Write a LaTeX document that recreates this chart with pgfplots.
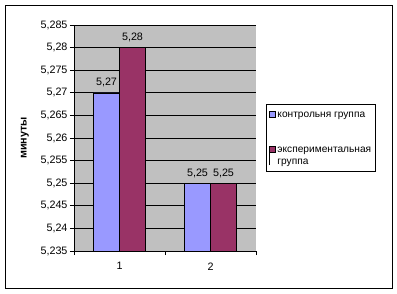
\documentclass[border=0pt]{standalone}
\usepackage{pgfplots}
\pgfplotsset{compat=1.18}
\usepackage{fontspec}
\setmainfont{Liberation Sans}
\definecolor{bgray}{HTML}{C0C0C0}
\definecolor{sblue}{HTML}{9999FF}
\definecolor{sred}{HTML}{993366}
\begin{document}
\begin{tikzpicture}
\begin{axis}[
  at={(0,0)}, anchor=south west,
  scale only axis, width=182bp, height=226bp,
  xmin=0.5, xmax=2.5, ymin=5.235, ymax=5.285,
  ybar=0pt, bar width=26bp,
  axis background/.style={fill=bgray},
  axis x line*=bottom, axis y line*=left,
  axis line style={-, black, line width=0.8pt},
  ytick={5.235,5.24,5.245,5.25,5.255,5.26,5.265,5.27,5.275,5.28,5.285},
  ymajorgrids, grid style={black, line width=0.8pt},
  tick align=outside, major tick length=4bp,
  tick style={black, line width=0.8pt},
  /pgf/number format/assume math mode=true,
  yticklabel={\pgfmathprintnumber[fixed,precision=3,use comma]{\tick}},
  yticklabel style={xshift=1bp},
  xtick={0.5,1.5,2.5}, xticklabels={},
  extra x ticks={1,2}, extra x tick labels={1,2},
  extra x tick style={tick style={draw=none}, xticklabel style={yshift=-4bp}},
  font=\fontsize{10.8}{12.5}\selectfont,
  ylabel={\bfseries минуты},
  ylabel style={at={(axis description cs:-0.27,0.5)}, anchor=center, font=\fontsize{10.8}{12.5}\selectfont},
  nodes near coords={\pgfmathprintnumber[fixed,precision=2,use comma]{\pgfplotspointmeta}},
  nodes near coords style={font=\fontsize{10.8}{12.5}\selectfont, black, yshift=2bp},
  legend style={at={(axis description cs:1.055,0.649)}, anchor=north west,
    draw=black, line width=0.8pt, fill=white, font=\fontsize{10.2}{12.5}\selectfont,
    inner xsep=2.5bp, inner ysep=2.5bp, row sep=22bp,
    nodes={inner xsep=2bp, inner ysep=1bp, text depth=},
    cells={anchor=west}},
]
\addplot[fill=sblue, draw=black, line width=0.6pt,
  legend image code/.code={\draw[fill=sblue, draw=black, line width=0.5pt] (0bp,-3bp) rectangle (6bp,3bp);}]
  coordinates {(1,5.27) (2,5.25)};
\addlegendentry{\rule{0pt}{9bp}контрольня группа}
\addplot[fill=sred, draw=black, line width=0.6pt,
  legend image code/.code={\draw[fill=sred, draw=black, line width=0.5pt] (0bp,3.4bp) rectangle (6bp,9.4bp); \path (0bp,-9.4bp) -- (0bp,9.4bp);}]
  coordinates {(1,5.28) (2,5.25)};
\addlegendentry{\begin{tabular}{@{}l@{}}экспериментальная\\группа\end{tabular}}
\end{axis}
\draw[black, line width=0.8pt] (-68.5bp,-37.5bp) rectangle (318bp,245.5bp);
\pgfresetboundingbox
\path (-74bp,-43bp) rectangle (323bp,251bp);
\end{tikzpicture}
\end{document}
